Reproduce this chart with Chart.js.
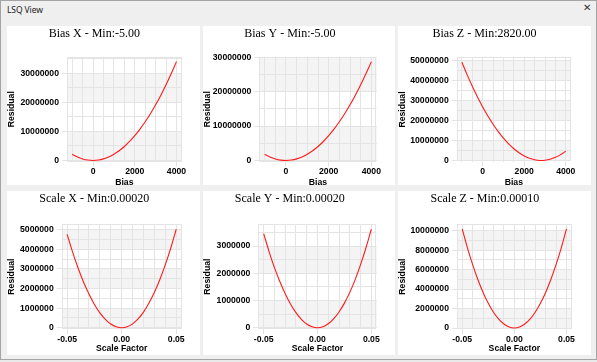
<!DOCTYPE html>
<html><head><meta charset="utf-8">
<script src="https://cdn.jsdelivr.net/npm/chart.js@4"></script>
<style>
html,body{margin:0;padding:0;}
body{width:597px;height:362px;background:#e9e9e9;position:relative;overflow:hidden;}
#win{position:absolute;left:0;top:0;width:597px;height:360px;box-sizing:border-box;background:#efefef;border:1px solid #a4a4a4;}
#wtitle{position:absolute;left:7px;top:4px;font-family:"Noto Sans","Open Sans",sans-serif;font-size:8.5px;color:#222;letter-spacing:-0.1px;}
#wclose{position:absolute;left:583px;top:2px;font-family:"DejaVu Sans",sans-serif;font-size:10px;color:#333;}
.panel{position:absolute;background:#fff;}
canvas{position:absolute;}
</style>
</head><body>
<div id="win"></div>
<div id="wtitle">LSQ View</div>
<div id="wclose">✕</div>
<script>
// ---------- data ----------
const panelTitles = ['Bias X - Min:-5.00','Bias Y - Min:-5.00','Bias Z - Min:2820.00',
                     'Scale X - Min:0.00020','Scale Y - Min:0.00020','Scale Z - Min:0.00010'];
const biasValues = [-1000,-750,-500,-250,0,250,500,750,1000,1250,1500,1750,2000,2250,2500,2750,3000,3250,3500,3750,4000];
const residualBiasX = [2100000,1180000,520000,130000,0,140000,540000,1210000,2140000,3340000,4800000,6530000,8520000,10780000,13300000,16090000,19140000,22460000,26040000,29890000,34000000];
const residualBiasY = [1770000,990000,440000,107000,0,116000,456000,1020000,1810000,2820000,4050000,5510000,7200000,9100000,11230000,13590000,16160000,18970000,21990000,25240000,28710000];
const residualBiasZ = [49320000,43080000,37260000,31860000,26880000,22320000,18190000,14480000,11200000,8330000,5890000,3870000,2270000,1100000,350000,17000,110000,620000,1560000,2920000,4710000];
const scaleValues = [-0.05,-0.045,-0.04,-0.035,-0.03,-0.025,-0.02,-0.015,-0.01,-0.005,0,0.005,0.01,0.015,0.02,0.025,0.03,0.035,0.04,0.045,0.05];
const residualScaleX = [4770000,3860000,3050000,2340000,1720000,1190000,760000,430000,190000,48000,0,50000,200000,450000,800000,1260000,1810000,2460000,3220000,4070000,5030000];
const residualScaleY = [3460000,2800000,2210000,1700000,1250000,865000,554000,311000,138000,35000,0,36000,145000,326000,579000,905000,1300000,1770000,2320000,2930000,3620000];
const residualScaleZ = [10180000,8240000,6510000,4990000,3660000,2540000,1630000,920000,410000,100000,0,100000,410000,920000,1630000,2540000,3660000,4990000,6510000,8240000,10180000];
// tick labels
const biasTickLabels = [0,2000,4000];
const scaleTickLabels = [-0.05,0,0.05];
const yTicksBiasX = [0,10000000,20000000,30000000];
const yTicksBiasY = [0,10000000,20000000,30000000];
const yTicksBiasZ = [0,10000000,20000000,30000000,40000000,50000000];
const yTicksScaleX = [0,1000000,2000000,3000000,4000000,5000000];
const yTicksScaleY = [0,1000000,2000000,3000000];
const yTicksScaleZ = [0,2000000,4000000,6000000,8000000,10000000];
const xAxisTitles = ['Bias','Scale Factor'];
const yAxisTitle = 'Residual';

// ---------- layout / style ----------
const GRID = '#e4e4e4', BAND = '#f4f4f4', LINE = '#ff1a1a';
const SANS = '"Liberation Sans", Arial, sans-serif';
const SERIF = '"Liberation Serif", "Times New Roman", serif';
const panels = [
 {t:panelTitles[0], xs:biasValues, ys:residualBiasX, xt:xAxisTitles[0], xMaj:biasTickLabels, xStep:500, yMaj:yTicksBiasX, yStep:5000000, dec:0, box:[7,26,193,159], area:[67,181.7,56.7,161.7], xH:25, cH:161},
 {t:panelTitles[1], xs:biasValues, ys:residualBiasY, xt:xAxisTitles[0], xMaj:biasTickLabels, xStep:500, yMaj:yTicksBiasY, yStep:5000000, dec:0, box:[203,26,192,159], area:[259.3,376.7,56.7,161.7], xH:25, cH:161},
 {t:panelTitles[2], xs:biasValues, ys:residualBiasZ, xt:xAxisTitles[0], xMaj:biasTickLabels, xStep:500, yMaj:yTicksBiasZ, yStep:5000000, dec:0, box:[398,26,193,159], area:[456.7,571,57.3,161.7], xH:25, cH:161},
 {t:panelTitles[3], xs:scaleValues, ys:residualScaleX, xt:xAxisTitles[1], xMaj:scaleTickLabels, xStep:0.01, yMaj:yTicksScaleX, yStep:500000, dec:2, box:[7,191,193,164], area:[61.7,181.7,224.3,329], xH:24, cH:164},
 {t:panelTitles[4], xs:scaleValues, ys:residualScaleY, xt:xAxisTitles[1], xMaj:scaleTickLabels, xStep:0.01, yMaj:yTicksScaleY, yStep:500000, dec:2, box:[203,191,192,164], area:[258.3,376.7,224.3,329], xH:24, cH:164},
 {t:panelTitles[5], xs:scaleValues, ys:residualScaleZ, xt:xAxisTitles[1], xMaj:scaleTickLabels, xStep:0.01, yMaj:yTicksScaleZ, yStep:1000000, dec:2, box:[398,191,193,164], area:[457,571.7,224,329.3], xH:24, cH:164}
];

function gridValues(min, max, step){
  const out=[]; const k0=Math.ceil(min/step-1e-9), k1=Math.floor(max/step+1e-9);
  for(let k=k0;k<=k1;k++) out.push(+(k*step).toPrecision(12));
  return out;
}
function isMajor(v, majors){
  if (v===undefined || v===null) return false;
  return majors.some(m => Math.abs(m-v) <= 1e-9*Math.max(1,Math.abs(m)));
}

const bandPlugin = {
  id:'bands',
  beforeDraw(chart, args, opts){
    const {ctx, chartArea:a} = chart; const y = chart.scales.y;
    ctx.save();
    ctx.fillStyle='#ffffff'; ctx.fillRect(a.left,a.top,a.right-a.left,a.bottom-a.top);
    const maj = opts.majors; const step = maj[1]-maj[0];
    ctx.fillStyle = BAND;
    for(let k=0;k<maj.length;k+=2){
      const lo=maj[k], hi=Math.min(maj[k]+step, y.max);
      const p0=y.getPixelForValue(hi), p1=y.getPixelForValue(lo);
      ctx.fillRect(a.left, p0, a.right-a.left, p1-p0);
    }
    ctx.restore();
  },
  beforeDatasetsDraw(chart){
    const {ctx, chartArea:a} = chart;
    ctx.save(); ctx.strokeStyle=GRID; ctx.lineWidth=1;
    ctx.strokeRect(Math.round(a.left)+0.5, Math.round(a.top)+0.5, Math.round(a.right-a.left)-1, Math.round(a.bottom-a.top)-1);
    ctx.restore();
  }
};

panels.forEach(p => {
  const [bx,by,bw,bh] = p.box; const [al,ar,at,ab] = p.area;
  const div = document.createElement('div'); div.className='panel';
  div.style.left=bx+'px'; div.style.top=by+'px'; div.style.width=bw+'px'; div.style.height=bh+'px';
  document.body.appendChild(div);
  const cv = document.createElement('canvas');
  cv.width=bw; cv.height=p.cH; cv.style.left=bx+'px'; cv.style.top=by+'px';
  cv.style.width=bw+'px'; cv.style.height=p.cH+'px';
  document.body.appendChild(cv);

  const xr = p.xs[p.xs.length-1]-p.xs[0];
  const xMin = p.xs[0]-0.05*xr, xMax = p.xs[p.xs.length-1]+0.05*xr;
  const yMax = Math.max(...p.ys)*1.05, yMin = -yMax*0.012;
  const xGrid = gridValues(xMin,xMax,p.xStep), yGrid = gridValues(yMin,yMax,p.yStep);
  const tickFont = {family:SANS, size:8.67, weight:'bold'};
  const titleFont = {family:SANS, size:8.67, weight:'bold', lineHeight:1};

  new Chart(cv, {
    type:'line',
    data:{datasets:[{data:p.xs.map((x,i)=>({x, y:p.ys[i]})), borderColor:LINE, borderWidth:1.1, pointRadius:0, tension:0.35, fill:false}]},
    options:{
      responsive:false, animation:false, devicePixelRatio:1,
      layout:{padding:{left:0, top:0, right:bw-(ar-bx), bottom:p.cH-(ab-by)-p.xH}},
      plugins:{
        legend:{display:false}, tooltip:{enabled:false},
        title:{display:true, text:p.t, color:'#000', font:{family:SERIF, size:12, weight:'normal', lineHeight:1.2}, padding:{top:0.5, bottom:(at-by)-0.5-14.4}},
        bands:{majors:p.yMaj}
      },
      scales:{
        x:{type:'linear', min:xMin, max:xMax,
          afterBuildTicks:s=>{s.ticks = xGrid.map(v=>({value:v}));},
          afterFit:s=>{s.height=p.xH;},
          grid:{color:GRID, lineWidth:1, drawTicks:true, tickLength:5, tickColor:c=>isMajor(c.tick&&c.tick.value,p.xMaj)?GRID:'rgba(0,0,0,0)'},
          border:{display:false},
          ticks:{autoSkip:false, maxRotation:0, minRotation:0, padding:0, color:'#000', font:tickFont,
            callback:v=>isMajor(v,p.xMaj)?(p.dec?Number(v).toFixed(p.dec):String(v)):''},
          title:{display:true, text:p.xt, color:'#000', font:titleFont, padding:0}
        },
        y:{type:'linear', min:yMin, max:yMax,
          afterBuildTicks:s=>{s.ticks = yGrid.map(v=>({value:v}));},
          afterFit:s=>{s.width=al-bx;},
          grid:{color:GRID, lineWidth:1, drawTicks:true, tickLength:5, tickColor:c=>isMajor(c.tick&&c.tick.value,p.yMaj)?GRID:'rgba(0,0,0,0)'},
          border:{display:false},
          ticks:{autoSkip:false, padding:3, color:'#000', font:tickFont,
            callback:v=>isMajor(v,p.yMaj)?String(Math.round(v)):''},
          title:{display:true, text:yAxisTitle, color:'#000', font:titleFont, padding:0}
        }
      }
    },
    plugins:[bandPlugin]
  });
});
</script>
</body></html>
